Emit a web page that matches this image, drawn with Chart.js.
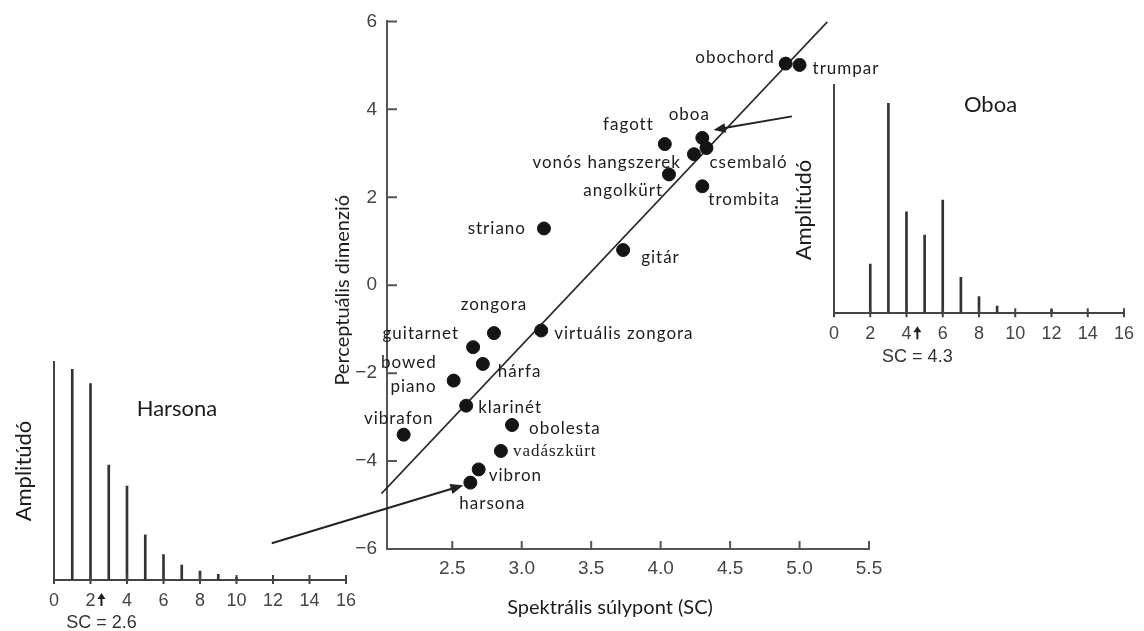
<!DOCTYPE html>
<html>
<head>
<meta charset="utf-8">
<script src="https://cdn.jsdelivr.net/npm/chart.js@4.4.1/dist/chart.umd.min.js"></script>
<style>
  html, body { margin: 0; padding: 0; background: #fff; }
  body { width: 1144px; height: 631px; position: relative; overflow: hidden; }
  canvas { position: absolute; }
  #main { left: 0; top: 0; }
  #harsona { left: 0; top: 330px; }
  #oboa { left: 780px; top: 60px; }
</style>
</head>
<body>
<canvas id="main" width="1144" height="631"></canvas>
<canvas id="harsona" width="400" height="301"></canvas>
<canvas id="oboa" width="364" height="320"></canvas>
<script>
// main scatter: spectral centroid vs perceptual dimension
const instruments = ["obochord", "trumpar", "oboa", "csembaló", "vonós hangszerek", "fagott",
  "angolkürt", "trombita", "striano", "gitár", "zongora", "virtuális zongora", "guitarnet",
  "hárfa", "bowed\npiano", "klarinét", "vibrafon", "obolesta", "vadászkürt", "vibron", "harsona"];
const spectralCentroid = [4.90, 5.00, 4.30, 4.33, 4.24, 4.03, 4.06, 4.30, 3.16, 3.73, 2.80, 3.14,
  2.65, 2.72, 2.51, 2.60, 2.15, 2.93, 2.85, 2.69, 2.63];
const perceptualDim = [5.04, 5.01, 3.35, 3.12, 2.98, 3.21, 2.52, 2.25, 1.29, 0.80, -1.09, -1.03,
  -1.41, -1.79, -2.17, -2.74, -3.40, -3.18, -3.77, -4.19, -4.49];
const xTicks = [2.5, 3.0, 3.5, 4.0, 4.5, 5.0, 5.5];
const yTicks = [-6, -4, -2, 0, 2, 4, 6];
// regression line end points
const fitX = [1.99, 5.20];
const fitY = [-4.74, 5.99];

// inset spectra
const harmonicTicks = [0, 2, 4, 6, 8, 10, 12, 14, 16];
const harsonaHarmonics = [1, 2, 3, 4, 5, 6, 7, 8, 9, 10];
const harsonaAmp = [0.965, 0.90, 0.527, 0.43, 0.207, 0.116, 0.068, 0.041, 0.026, 0.012];
const oboaHarmonics = [2, 3, 4, 5, 6, 7, 8, 9, 12];
const oboaAmp = [0.216, 0.92, 0.445, 0.343, 0.496, 0.158, 0.073, 0.032, 0.016];

// label placement: [dx, dy, align] in px from the dot
const labelPlace = [[-11, -6, "right"], [13, 4, "left"], [-13, -23, "center"], [3, 14, "left"],
  [-13, 8, "right"], [-11, -20, "right"], [-6, 16, "right"], [6, 13, "left"], [-18, 0, "right"],
  [18, 7, "left"], [0, -29, "center"], [13, 3, "left"], [-14, -14, "right"], [15, 8, "left"],
  [-17, -6, "right"], [12, 2, "left"], [-5, -16, "center"], [17, 4, "left"], [12, 1, "left"],
  [10, 6, "left"], [22, 21, "center"]];

const ink = "#1c1c1c";
const axisGray = "#555";
const tickFont = { family: "'Liberation Sans', Arial, sans-serif", size: 19 };

function drawArrow(ctx, x0, y0, x1, y1, head) {
  const ang = Math.atan2(y1 - y0, x1 - x0);
  const c = Math.cos(ang), s = Math.sin(ang);
  ctx.beginPath();
  ctx.moveTo(x0, y0);
  ctx.lineTo(x1 - c * head * 0.8, y1 - s * head * 0.8);
  ctx.stroke();
  ctx.beginPath();
  ctx.moveTo(x1, y1);
  ctx.lineTo(x1 - head * c + head * 0.4 * s, y1 - head * s - head * 0.4 * c);
  ctx.lineTo(x1 - head * c - head * 0.4 * s, y1 - head * s + head * 0.4 * c);
  ctx.closePath();
  ctx.fill();
}

const mainDecor = {
  id: "mainDecor",
  afterDraw(chart) {
    const { ctx, chartArea: a, scales: { x, y } } = chart;
    ctx.save();
    // inward tick marks
    ctx.strokeStyle = axisGray;
    ctx.lineWidth = 2;
    ctx.beginPath();
    y.ticks.forEach(t => {
      const py = y.getPixelForValue(t.value);
      ctx.moveTo(a.left, py);
      ctx.lineTo(a.left + 10, py);
    });
    x.ticks.forEach(t => {
      const px = x.getPixelForValue(t.value);
      ctx.moveTo(px, a.bottom);
      ctx.lineTo(px, a.bottom - 8);
    });
    ctx.stroke();

    // arrows pointing at oboa and harsona
    ctx.strokeStyle = "#222";
    ctx.fillStyle = "#222";
    ctx.lineWidth = 2;
    drawArrow(ctx, x.getPixelForValue(4.945), y.getPixelForValue(3.84),
      x.getPixelForValue(4.38), y.getPixelForValue(3.53), 12);
    drawArrow(ctx, x.getPixelForValue(1.20), y.getPixelForValue(-5.87),
      x.getPixelForValue(2.58), y.getPixelForValue(-4.55), 13);

    // point labels
    ctx.fillStyle = ink;
    ctx.textBaseline = "middle";
    ctx.letterSpacing = "1px";
    const meta = chart.getDatasetMeta(1);
    meta.data.forEach((pt, i) => {
      const [dx, dy, align] = labelPlace[i];
      ctx.font = instruments[i] === "vadászkürt" ? "17px 'Liberation Serif', serif" : "17px Lato";
      ctx.textAlign = align;
      const lines = instruments[i].split("\n");
      lines.forEach((ln, k) => {
        ctx.fillText(ln, pt.x + dx, pt.y + dy + (k - (lines.length - 1) / 2) * 24);
      });
    });
    ctx.letterSpacing = "0px";

    // axis titles
    ctx.font = "20px Lato";
    ctx.textAlign = "center";
    ctx.fillText("Spektrális súlypont (SC)", (a.left + a.right) / 2 - 18, a.bottom + 59);
    ctx.save();
    ctx.translate(a.left - 44, (a.top + a.bottom) / 2 + 5);
    ctx.rotate(-Math.PI / 2);
    ctx.fillText("Perceptuális dimenzió", 0, 0);
    ctx.restore();
    ctx.restore();
  }
};

new Chart(document.getElementById("main"), {
  type: "scatter",
  data: {
    datasets: [
      {
        type: "line",
        data: fitX.map((v, i) => ({ x: v, y: fitY[i] })),
        borderColor: "#2a2a2a",
        borderWidth: 1.6,
        pointRadius: 0,
        showLine: true,
        fill: false,
        clip: false,
        order: 1
      },
      {
        data: spectralCentroid.map((v, i) => ({ x: v, y: perceptualDim[i] })),
        backgroundColor: "#141414",
        borderColor: "#141414",
        pointRadius: 6.5,
        order: 0
      }
    ]
  },
  options: {
    responsive: false,
    animation: false,
    events: [],
    layout: { padding: { left: 0, top: 20, right: 275, bottom: 0 } },
    plugins: { legend: { display: false }, tooltip: { enabled: false } },
    scales: {
      x: {
        type: "linear",
        min: 2.03,
        max: 5.5,
        afterBuildTicks: s => { s.ticks = xTicks.map(v => ({ value: v })); },
        afterFit: s => { s.height = 82; },
        grid: { display: false, drawTicks: false },
        border: { display: true, color: axisGray, width: 2 },
        ticks: { color: "#444", font: tickFont, padding: 8, callback: v => v.toFixed(1) }
      },
      y: {
        min: -6,
        max: 6,
        afterBuildTicks: s => { s.ticks = yTicks.map(v => ({ value: v })); },
        afterFit: s => { s.width = 387; },
        grid: { display: false, drawTicks: false },
        border: { display: true, color: axisGray, width: 2 },
        ticks: { color: "#444", font: tickFont, padding: 10,
          callback: v => (v < 0 ? "\u2212" + Math.abs(v) : String(v)) }
      }
    }
  },
  plugins: [mainDecor]
});

// inset spectrum charts
function insetDecor(title, titlePos, ampPos, scText, markAt, scY) {
  return {
    id: "insetDecor",
    afterDraw(chart) {
      const { ctx, chartArea: a, scales: { x } } = chart;
      ctx.save();
      ctx.strokeStyle = "#444";
      ctx.lineWidth = 2;
      ctx.beginPath();
      x.ticks.forEach(t => {
        const px = x.getPixelForValue(t.value);
        ctx.moveTo(px, a.bottom + 4);
        ctx.lineTo(px, a.bottom - 5);
      });
      ctx.stroke();

      ctx.fillStyle = ink;
      ctx.textAlign = "center";
      ctx.textBaseline = "middle";
      ctx.font = "22px Lato";
      ctx.fillText(title, titlePos[0], titlePos[1]);
      ctx.save();
      ctx.translate(ampPos[0], ampPos[1]);
      ctx.rotate(-Math.PI / 2);
      ctx.fillText("Amplitúdó", 0, 0);
      ctx.restore();

      // SC marker arrow and label
      const mx = x.getPixelForValue(markAt);
      ctx.fillStyle = "#222";
      ctx.beginPath();
      ctx.moveTo(mx, a.bottom + 13);
      ctx.lineTo(mx - 4, a.bottom + 19);
      ctx.lineTo(mx + 4, a.bottom + 19);
      ctx.closePath();
      ctx.fill();
      ctx.fillRect(mx - 1, a.bottom + 18, 2, 8);
      ctx.fillStyle = "#333";
      ctx.font = "18px 'Liberation Sans', Arial, sans-serif";
      ctx.fillText(scText, mx, scY);
      ctx.restore();
    }
  };
}

function insetChart(id, harmonics, amps, pad, xHeight, decor) {
  return new Chart(document.getElementById(id), {
    type: "bar",
    data: {
      datasets: [{
        data: harmonics.map((h, i) => ({ x: h, y: amps[i] })),
        backgroundColor: "#333",
        borderWidth: 0,
        barThickness: 2
      }]
    },
    options: {
      responsive: false,
      animation: false,
      events: [],
      layout: { padding: pad },
      plugins: { legend: { display: false }, tooltip: { enabled: false } },
      scales: {
        x: {
          type: "linear",
          min: 0,
          max: 16,
          offset: false,
          afterBuildTicks: s => { s.ticks = harmonicTicks.map(v => ({ value: v })); },
          afterFit: s => { s.height = xHeight; },
          grid: { display: false, drawTicks: false },
          border: { display: true, color: "#444", width: 2 },
          ticks: { color: "#444", font: { family: "'Liberation Sans', Arial, sans-serif", size: 18 }, padding: 10 }
        },
        y: {
          min: 0,
          max: 1,
          afterFit: s => { s.width = 54; },
          grid: { display: false, drawTicks: false },
          border: { display: true, color: "#444", width: 2 },
          ticks: { display: false }
        }
      }
    },
    plugins: [decor]
  });
}

insetChart("harsona", harsonaHarmonics, harsonaAmp,
  { left: 0, top: 31.7, right: 54, bottom: 0 }, 51,
  insetDecor("Harsona", [177, 79], [24, 141], "SC = 2.6", 2.6, 293));
insetChart("oboa", oboaHarmonics, oboaAmp,
  { left: 0, top: 25, right: 17.3, bottom: 0 }, 66.7,
  insetDecor("Oboa", [210.5, 45], [24, 150], "SC = 4.3", 4.6, 297.5));
</script>
</body>
</html>
